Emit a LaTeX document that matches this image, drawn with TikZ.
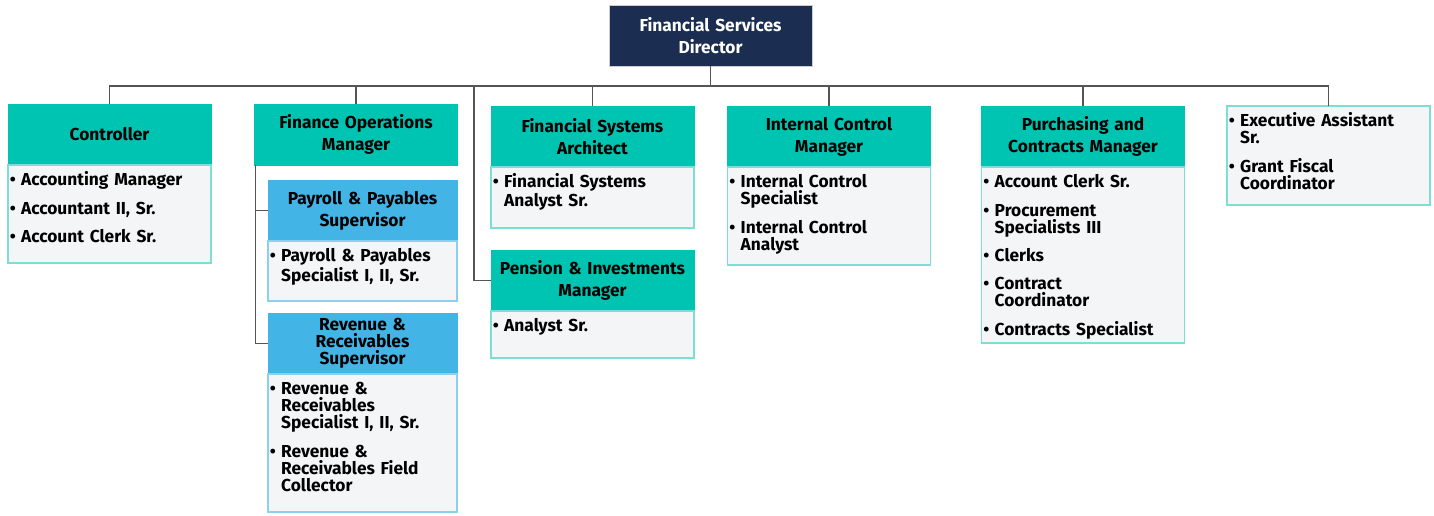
\documentclass[tikz,border=0pt]{standalone}
\usepackage{fontspec}
\setmainfont{Fira Sans}
\usetikzlibrary{positioning}
\definecolor{dirnavy}{RGB}{27,46,82}
\definecolor{headteal}{RGB}{0,196,178}
\definecolor{headblue}{RGB}{66,180,230}
\definecolor{bodygrey}{RGB}{244,245,247}
\definecolor{edgeteal}{RGB}{125,222,212}
\definecolor{edgeblue}{RGB}{140,208,240}
\definecolor{linkgrey}{RGB}{85,85,85}
% one bullet entry of a job list
\newcommand{\li}[1]{\par\lineskiplimit=-100pt\relax\noindent\makebox[8.5pt][l]{\textbullet}%
  \parbox[t]{130pt}{\raggedright #1\strut}\par\prevdepth=\dp\strutbox\vspace{8.5pt}}
\tikzset{
    % director box (navy)
    dirbox/.style={
        draw=gray!40, fill=dirnavy, text=white,
        minimum width=152.25pt, minimum height=45.75pt,
        text width=148pt, align=center, inner sep=0pt, outer sep=0pt,
        font=\fontsize{13}{16.5}\selectfont\bfseries
    },
    % manager header (teal)
    headbox/.style={
        draw=headteal, fill=headteal,
        minimum width=152.25pt, minimum height=45.75pt,
        text width=148pt, align=center, inner sep=0pt, outer sep=0pt,
        font=\fontsize{13}{16.5}\selectfont\bfseries
    },
    % supervisor header (blue)
    subbox/.style={headbox, draw=headblue, fill=headblue,
        minimum width=141.75pt, text width=138pt},
    % list area under a header
    bodybox/.style={
        draw=edgeteal, fill=bodygrey, line width=0.9pt,
        minimum width=152.25pt, inner sep=0pt, outer sep=0pt
    },
    subbodybox/.style={bodybox, draw=edgeblue, minimum width=141.75pt},
    % bullet text inside a list area
    jobs/.style={
        anchor=north west, text width=138pt, align=left,
        inner xsep=1.2pt, inner ysep=2.7pt,
        font=\fontsize{13}{12.75}\selectfont\bfseries
    },
    link/.style={draw=linkgrey, line width=1.1pt}
}
\begin{document}
\begin{tikzpicture}[x=0.75pt,y=-0.75pt]
  \useasboundingbox (0,0) rectangle (1434,516);
  % top
  \node[dirbox] (dir) at (710.5,35.5) {Financial Services\\Director};
  % second level
  \node[headbox] (ctrl) at (109.5,134.5) {Controller};
  \node[bodybox,minimum height=73.5pt,below=0pt of ctrl] (ctrlb) {};
  \node[jobs] (ctrll) at (ctrlb.north west)
    {\li{Accounting Manager}\li{Accountant II, Sr.}\li{Account Clerk Sr.}};

  \node[headbox] (fom) at (356,134.5) {Finance Operations\\Manager};
  \node[subbox] (pps) at (362.5,210.5) {Payroll \& Payables\\Supervisor};
  \node[subbodybox,minimum height=45pt,below=0pt of pps] (ppsb) {};
  \node[jobs] (ppsl) at (ppsb.north west)
    {\li{Payroll \& Payables\\Specialist I, II, Sr.}};
  \node[subbox,font=\fontsize{13}{12.75}\selectfont\bfseries] (rrs) at (362.5,343.5)
    {Revenue \&\\Receivables\\Supervisor};
  \node[subbodybox,minimum height=103.5pt,below=0pt of rrs] (rrsb) {};
  \node[jobs] (rrsl) at (rrsb.north west)
    {\li{Revenue \&\\Receivables\\Specialist I, II, Sr.}\li{Revenue \&\\Receivables Field\\Collector}};

  \node[headbox] (fsa) at (592.5,136.5) {Financial Systems\\Architect};
  \node[bodybox,minimum height=45.75pt,below=0pt of fsa] (fsab) {};
  \node[jobs] (fsal) at (fsab.north west) {\li{Financial Systems\\Analyst Sr.}};

  \node[headbox] (pim) at (592.5,280.5) {Pension \& Investments\\Manager};
  \node[bodybox,minimum height=35.25pt,below=0pt of pim] (pimb) {};
  \node[jobs] (piml) at (pimb.north west) {\li{Analyst Sr.}};

  \node[headbox] (icm) at (829,136.5) {Internal Control\\Manager};
  \node[bodybox,minimum height=73.5pt,below=0pt of icm] (icmb) {};
  \node[jobs] (icml) at (icmb.north west)
    {\li{Internal Control\\Specialist}\li{Internal Control\\Analyst}};

  \node[headbox] (pcm) at (1083,136.5) {Purchasing and\\Contracts Manager};
  \node[bodybox,minimum height=132pt,below=0pt of pcm] (pcmb) {};
  \node[jobs] (pcml) at (pcmb.north west)
    {\li{Account Clerk Sr.}\li{Procurement\\Specialists III}\li{Clerks}\li{Contract\\Coordinator}\li{Contracts Specialist}};

  \node[bodybox,minimum height=74.25pt] (exa) at (1328.5,155.5) {};
  \node[jobs] (exal) at (exa.north west)
    {\li{Executive Assistant\\Sr.}\li{Grant Fiscal\\Coordinator}};

  % connectors
  \coordinate (bus) at (0,86);
  \draw[link] (dir.south) -- (dir.south |- bus);
  \draw[link] (ctrl.north) -- (ctrl.north |- bus) -- (exa.north |- bus) -- (exa.north);
  \foreach \n in {fom,fsa,icm,pcm}
    \draw[link] (\n.north) -- (\n.north |- bus);
  \coordinate (pimtap) at (474,86);
  \draw[link] (pimtap) |- (pim.west);
  \coordinate (fomrail) at ([xshift=0.75pt]fom.south west);
  \draw[link] (fomrail) |- (pps.west);
  \draw[link] (fomrail) |- (rrs.west);
\end{tikzpicture}
\end{document}
